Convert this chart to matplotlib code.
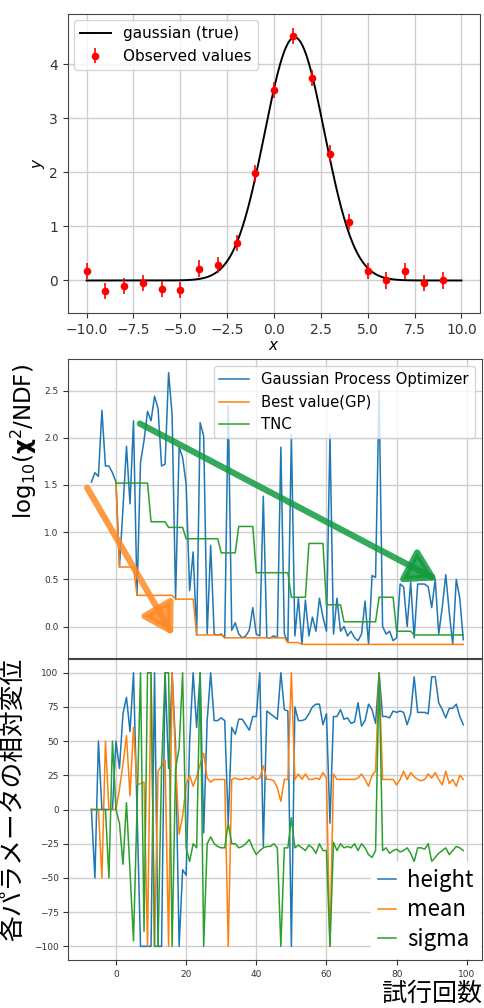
import numpy as np
import matplotlib
matplotlib.use('Agg')
import matplotlib.pyplot as plt
from matplotlib.patches import FancyArrowPatch

plt.rcParams['font.family'] = ['DejaVu Sans', 'Noto Sans CJK JP']

# ---------------- top panel data ----------------
obs_x = list(range(-10, 10))
obs_y = [0.17, -0.20, -0.10, -0.05, -0.16, -0.18, 0.22, 0.29, 0.69, 1.98,
         3.53, 4.53, 3.75, 2.35, 1.08, 0.18, 0.00, 0.17, -0.05, 0.00]
obs_err = [0.15] * 20
true_height, true_mean, true_sigma = 4.5, 1.1, 1.6
curve_range = (-10, 10)

# ---------------- middle panel data ----------------
trial = list(range(-7, 100))
gp_chi2 = [1.53, 1.63, 1.59, 2.29, 1.70, 1.70, 1.63,            # -7..-1
           1.53, 0.63, 1.25, 1.91, 1.30, 2.18, 0.33, 1.74, 1.97, 2.28,   # 0..9
           2.18, 2.44, 2.31, 1.70, 1.72, 2.69, 2.25, 0.29, 1.90, 1.79,   # 10..19
           1.51, 0.38, 0.79, -0.09, 2.16, 2.02, -0.08, 0.86, -0.08, -0.09,  # 20..29
           -0.08, -0.12, 2.34, -0.04, 0.04, -0.08, -0.12, -0.10, -0.04, 0.20,  # 30..39
           -0.08, -0.10, 1.38, -0.12, -0.12, -0.10, -0.12, 1.90, -0.08, -0.17,  # 40..49
           2.03, -0.10, 0.30, -0.19, 0.28, -0.10, 0.10, -0.05, 0.30, 0.10,  # 50..59
           -0.05, 2.03, -0.08, 0.30, -0.05, 0.00, -0.10, -0.05, -0.12, -0.15,  # 60..69
           -0.08, 0.27, -0.19, 0.54, 0.52, 2.50, 0.00, -0.08, -0.05, -0.15,  # 70..79
           -0.12, 0.45, 0.42, 0.00, 0.47, -0.12, 0.45, 0.45, 0.45, 0.42,  # 80..89
           0.20, 0.50, -0.08, 0.20, 0.55, 0.15, -0.19, 0.50, 0.30, -0.14]  # 90..99
tnc_trial = list(range(0, 100))
tnc_levels = [1.52, 1.11, 1.05, 0.93, 0.78, 1.06, 0.57, 0.31, 0.88, 0.23, 0.05, 0.31, -0.05, -0.09]
tnc_counts = [10, 5, 5, 10, 5, 5, 10, 5, 5, 5, 10, 5, 5, 15]

# ---------------- bottom panel data ----------------
height_disp = [0, -50, 50, 0, 0, 0, 0,
               50, 30, 70, 82, 57, 100, 0, -100, -100, -100,
               -100, 100, -100, -100, 100, 30, 100, 46, -100, -44,
               -48, 50, 100, 60, 100, -17, 65, 100, 65, 65,
               67, 65, -10, 60, 55, 66, 66, 62, 58, 68,
               68, 100, -27, 72, 70, 68, 66, 100, 73, 72,
               -100, 75, 65, 65, 66, 70, 75, 77, 77, 62,
               70, -10, 68, 68, 73, 66, 67, 63, 64, 78,
               61, 65, 77, 73, 63, 100, 68, 68, 67, 72,
               71, 72, 71, 62, 70, 97, 71, 71, 71, 70,
               97, 97, 78, 73, 67, 74, 74, 77, 68, 62]
mean_disp = [0, 0, 0, -50, 50, 0, 0,
             0, 15, 33, 54, 10, 60, 18, 19, 20, -100,
             100, -100, 28, 32, 36, -100, 100, 35, -18, -5,
             18, 25, 17, 24, 33, 41, 23, 20, 22, 22,
             22, 22, -100, 22, 23, 22, 22, 23, 22, 24,
             22, 23, 32, 22, 22, 21, 16, 6, 22, 22,
             100, 22, 26, 22, 26, 22, 22, 23, 22, 27,
             23, -100, 26, 22, 22, 22, 22, 22, 22, 23,
             26, 22, 17, 25, 28, 100, 22, 22, 22, 22,
             18, 22, 28, 22, 27, 24, 22, 21, 22, 26,
             23, 27, 22, 18, 28, 19, 22, 17, 25, 22]
sigma_disp = [0, 0, 0, 0, 0, -50, 50,
              0, -10, -40, 5, -45, -96, 0, 100, -89, 100,
              100, -100, -100, 30, 100, 100, -100, 30, 45, 100,
              -28, -38, -25, -28, 100, -100, -25, -20, -25, -27,
              -28, -28, -10, -25, -25, -28, -27, -25, -22, -28,
              -33, -30, -28, -27, -27, -25, -28, -100, -28, -28,
              -6, -28, -26, -28, -30, -26, -28, -32, -25, -30,
              -30, -100, -24, -30, -25, -28, -27, -28, -25, -30,
              -25, -28, -33, -35, -30, 100, -30, -28, -32, -30,
              -29, -31, -30, -28, -32, -38, -28, -28, -29, -25,
              -38, -35, -32, -30, -28, -33, -30, -27, -28, -30]

# derived series
tnc_chi2 = np.repeat(tnc_levels, tnc_counts)
gp_arr = np.array(gp_chi2)
start0 = trial.index(0)
best_trial = trial[start0:]
best_gp = np.minimum.accumulate(gp_arr[start0:])

fig = plt.figure(figsize=(4.85, 10.08), dpi=100)
ax1 = fig.add_axes([0.140, 0.6895, 0.850, 0.2966])
ax2 = fig.add_axes([0.141, 0.3472, 0.853, 0.2966])
ax3 = fig.add_axes([0.141, 0.0476, 0.853, 0.2986], sharex=ax2)

grid_kw = dict(color='#cfcfcf', linewidth=1.0)
spine_col = '#444444'

# ---- top ----
xs = np.linspace(curve_range[0], curve_range[1], 400)
ax1.plot(xs, true_height * np.exp(-(xs - true_mean) ** 2 / (2 * true_sigma ** 2)),
         color='black', lw=1.4, label='gaussian (true)')
ax1.errorbar(obs_x, obs_y, yerr=obs_err, fmt='o', color='red', ms=4.5,
             elinewidth=1.2, label='Observed values')
ax1.grid(True, **grid_kw)
ax1.set_axisbelow(True)
ax1.set_xlabel('$x$', fontsize=11, labelpad=1)
ax1.set_ylabel('$y$', fontsize=11, labelpad=2)
ax1.tick_params(labelsize=10, colors='#333333')
for s in ax1.spines.values():
    s.set_color(spine_col)
ax1.legend(loc='upper left', fontsize=11, framealpha=0.8, borderaxespad=0.4)

# ---- middle ----
ax2.plot(trial, gp_chi2, color='tab:blue', lw=1.1, label='Gaussian Process Optimizer')
ax2.plot(best_trial, best_gp, color='tab:orange', lw=1.1, label='Best value(GP)')
ax2.plot(tnc_trial, tnc_chi2, color='tab:green', lw=1.1, label='TNC')
ax2.grid(True, **grid_kw)
ax2.set_axisbelow(True)
ax2.tick_params(labelsize=6.5, colors='#333333', labelbottom=False)
ax2.set_ylabel('log$_{10}$($\\mathbf{\\chi}^2$/NDF)', fontsize=16.5)
ax2.yaxis.set_label_coords(-0.07, 0.725)
for s in ax2.spines.values():
    s.set_color(spine_col)
ax2.legend(loc='upper right', fontsize=10.7, framealpha=0.8, borderaxespad=0.5)


def hand_arrow(ax, start, end, color):
    arr = FancyArrowPatch(start, end,
                          arrowstyle='-|>,head_length=1.0,head_width=0.6',
                          mutation_scale=18, lw=4.5, color=color, alpha=0.85,
                          shrinkA=0, shrinkB=0, zorder=6, joinstyle='round',
                          capstyle='round')
    ax.add_patch(arr)


hand_arrow(ax2, (-8.2, 1.47), (16.3, -0.095), '#ff8a24')
hand_arrow(ax2, (6.8, 2.15), (91.7, 0.49), '#129a3f')

# ---- bottom ----
ax3.plot(trial, height_disp, color='tab:blue', lw=1.1, label='height')
ax3.plot(trial, mean_disp, color='tab:orange', lw=1.1, label='mean')
ax3.plot(trial, sigma_disp, color='tab:green', lw=1.1, label='sigma')
ax3.grid(True, **grid_kw)
ax3.set_axisbelow(True)
ax3.set_yticks([-100, -75, -50, -25, 0, 25, 50, 75, 100])
ax3.set_xticks([0, 20, 40, 60, 80, 100])
ax3.tick_params(labelsize=6.5, colors='#333333')
for s in ax3.spines.values():
    s.set_color(spine_col)
ax3.set_ylabel('各パラメータの相対変位', fontsize=18.5, family=['Noto Sans CJK JP'])
ax3.yaxis.set_label_coords(-0.10, 0.535)
ax3.set_xlabel('試行回数', fontsize=18, family=['Noto Sans CJK JP'], loc='right')
ax3.xaxis.set_label_coords(1.0, -0.068)
ax3.legend(loc='lower right', handlelength=0.8, handletextpad=0.5,
           labelspacing=0.3, frameon=True, edgecolor='white', framealpha=1.0,
           borderaxespad=0.1, borderpad=0.3,
           prop={'family': 'Noto Sans CJK JP', 'size': 16})

fig.savefig('out.png', dpi=100)
